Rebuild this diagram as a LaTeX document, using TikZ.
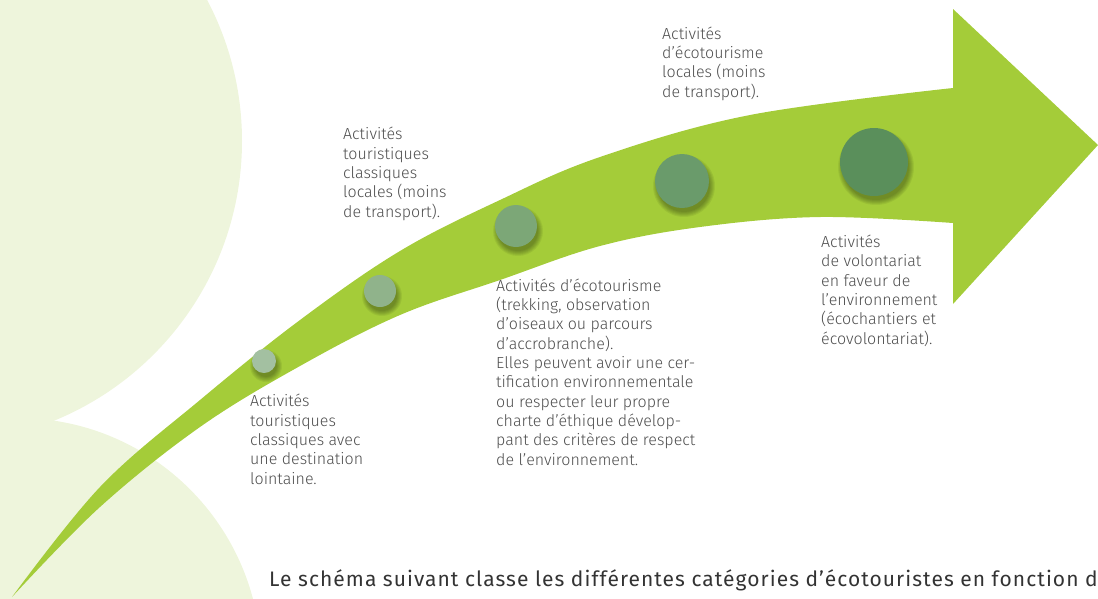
\documentclass[tikz,border=0pt]{standalone}
\usepackage{fontspec}
\setmainfont{Fira Sans Light}
\newfontfamily\introfont[LetterSpace=5]{Fira Sans}
\definecolor{paleleaf}{HTML}{EEF5DC}
\definecolor{arrowgreen}{HTML}{A4CC39}
\definecolor{stageA}{HTML}{A3C0A1}
\definecolor{stageB}{HTML}{90B38B}
\definecolor{stageC}{HTML}{7CA777}
\definecolor{stageD}{HTML}{6A9B6B}
\definecolor{stageE}{HTML}{5A8F5B}
\definecolor{labelgrey}{HTML}{4D4D4D}
\definecolor{introgrey}{HTML}{333333}
\tikzset{
  stagetext/.style={anchor=base west, align=left, inner sep=0pt, text=labelgrey,
    font=\fontsize{16}{19.3}\selectfont},
  stagedot/.style={circle, inner sep=0pt, draw=none},
}
\begin{document}
\begin{tikzpicture}[x=1pt,y=-1pt]
  \useasboundingbox(0,0) rectangle (1098,598);
  \clip(0,0) rectangle (1098,598);
  % background leaves
  \fill[paleleaf](-60,141) circle[radius=302];
  \fill[paleleaf](18,661) circle[radius=243];
  % the arrow
  \fill[arrowgreen] plot[smooth,tension=.6] coordinates {(12,597) (100,487) (200,400) (300,320) (400,251) (500,200) (600,157) (750,115) (953,88)}
    -- (953,9) -- (1098,145) -- (953,304) -- (953,223)
    -- plot[smooth,tension=.6] coordinates {(953,223) (820,217) (700,227) (600,246) (500,280) (400,315) (300,366) (200,427) (100,507) (12,597)} -- cycle;
  % stages
  \foreach \x/\y/\r/\c [count=\i] in {264/361/12/stageA,380/291/16/stageB,516/226/21/stageC,682/181/27/stageD,874/162/34/stageE}{
    \foreach \k in {0,...,5}
      \fill[black,opacity=.06](\x+2,\y+5) circle[radius=\r+4-\k];
    \node[stagedot,fill=\c,minimum size=2*\r] (s\i) at (\x,\y) {};
  }
  \node[stagetext] (t1) at (250,484) {Activités\\touristiques\\classiques avec\\une destination\\lointaine.};
  \node[stagetext] (t2) at (343,217) {Activités\\touristiques\\classiques\\locales (moins\\de transport).};
  \node[stagetext] (t3) at (496,465) {Activités d’écotourisme\\(trekking, observation\\d’oiseaux ou parcours\\d’accrobranche).\\Elles peuvent avoir une cer-\\tification environnementale\\ou respecter leur propre\\charte d’éthique dévelop-\\pant des critères de respect\\de l’environnement.};
  \node[stagetext] (t4) at (662,97) {Activités\\d’écotourisme\\locales (moins\\de transport).};
  \node[stagetext] (t5) at (821,344) {Activités\\de volontariat\\en faveur de\\l’environnement\\(écochantiers et\\écovolontariat).};
  % caption below
  \node[anchor=base west,inner sep=0pt,text=introgrey,font=\introfont\fontsize{21}{25}\selectfont] (intro) at (269,586)
    {\makebox[841pt][s]{Le schéma suivant classe les différentes catégories d’écotouristes en fonction de}};
\end{tikzpicture}
\end{document}
